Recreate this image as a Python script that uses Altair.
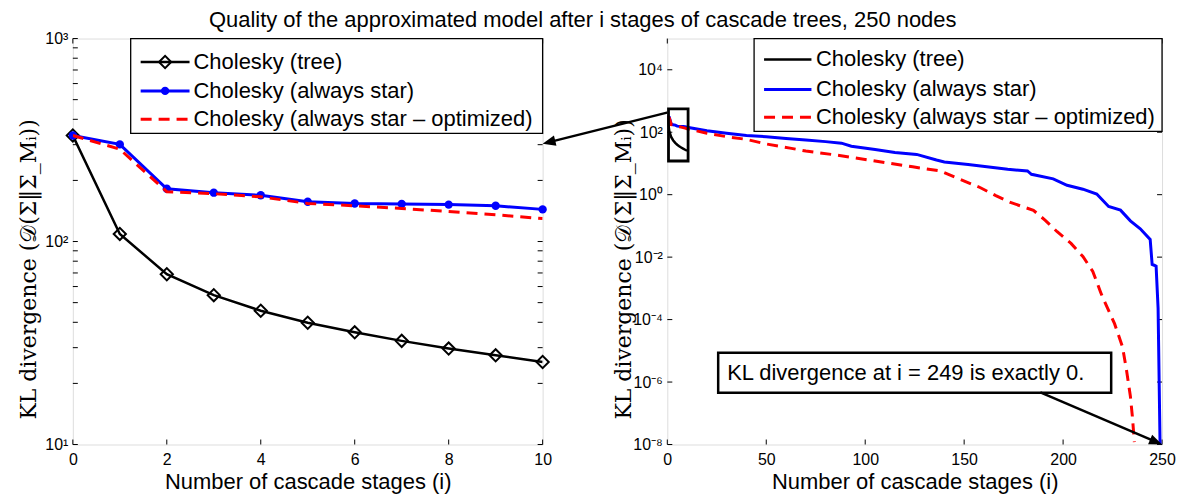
import math
import altair as alt
import pandas as pd

# ---------------- text ----------------
TITLE = "Quality of the approximated model after i stages of cascade trees, 250 nodes"
X_TITLE = "Number of cascade stages (i)"
Y_TITLE = "KL divergence (𝒟(Σ‖Σ_Mᵢ))"
SERIES = ["Cholesky (tree)", "Cholesky (always star)", "Cholesky (always star – optimized)"]
NOTE = "KL divergence at i = 249 is exactly 0."

# ---------------- data ----------------
stage_short = [0, 1, 2, 3, 4, 5, 6, 7, 8, 9, 10]
tree_kl = [333, 109, 69, 54.4, 45.6, 39.8, 35.7, 32.4, 29.7, 27.5, 25.5]
star_kl_short = [333, 301, 182, 174, 169, 157, 154, 153, 152, 150, 144]
opt_kl_short = [333, 285, 176, 172, 166, 154, 150, 145.5, 140.6, 135.5, 129.7]

star_stage_long = [20, 30, 40, 50, 60, 70, 80, 88, 93, 105, 115, 126, 136, 140, 152,
                   172, 182, 184, 195, 202, 210, 217, 223, 229, 234, 239, 244, 245,
                   246, 247, 248, 249]
star_kl_long = [112, 93, 78.5, 72, 63, 56, 50, 44.7, 35.5, 28, 22.4, 19.5, 12.9, 11.2, 9.3,
                6.5, 5.75, 4.5, 3.2, 2.0, 1.5, 1.05, 0.42, 0.32, 0.145, 0.081, 0.037, 0.0058,
                0.0055, 0.0051, 2.3e-4, 0]
opt_stage_long = [20, 30, 40, 50, 62, 70, 87, 105, 124, 138, 148, 158, 166, 173, 185, 191,
                  197, 204, 210, 215, 219, 220, 226, 230, 232, 234, 235, 236]
opt_kl_long = [93, 72, 59, 42, 31, 25, 18, 12, 7.8, 5.75, 3.1, 1.7, 0.93, 0.575, 0.316, 0.151,
               0.065, 0.0275, 0.0105, 0.0035, 7.4e-4, 5.1e-4, 7.4e-5, 1.35e-5, 2.5e-6, 3.5e-7,
               8e-8, 1.2e-8]

zoom_box_stage = [0.6, 10.5]
zoom_box_kl = [12, 560]

left_xticks = [0, 2, 4, 6, 8, 10]
left_ydecades = [1, 2, 3]
right_xticks = [0, 50, 100, 150, 200, 250]
right_ydecades = [-8, -6, -4, -2, 0, 2, 4]

# ---------------- styling ----------------
FONT = "Liberation Sans"
SERIF = "DejaVu Serif"
H = 407
WL = 471
WR = 496
GAP = 125
BLACK, BLUE, RED = "#000000", "#0000ff", "#ff0000"
DASH = [11, 7]
DUMMY = pd.DataFrame({"d": [0]})
SUP = {"-": "⁻", "0": "⁰", "1": "¹", "2": "²", "3": "³", "4": "⁴",
       "5": "⁵", "6": "⁶", "7": "⁷", "8": "⁸", "9": "⁹"}
HEAD_PATH = "M0,0L0.4,1L-0.4,1Z"

lx = alt.Scale(domain=[0, 10], nice=False, zero=False)
ly = alt.Scale(type="log", domain=[10, 1000], nice=False)
rx = alt.Scale(domain=[0, 250], nice=False, zero=False)
ry = alt.Scale(type="log", domain=[1e-8, 1e5], nice=False)


def sup_label(e):
    return "10" + "".join(SUP[c] for c in str(e))


def label_expr(exps):
    expr = "''"
    for e in exps:
        expr = f"abs(log(datum.value)/LN10 - ({e})) < 0.01 ? '{sup_label(e)}' : ({expr})"
    return expr


def x_axis(values):
    return alt.Axis(values=values, ticks=False, domain=False, grid=False,
                    labelFontSize=16, labelPadding=7, labelFlush=False, labelColor="black",
                    labelFont=FONT, title=X_TITLE, titleFont=FONT, titleFontSize=22,
                    titleFontWeight="normal", titlePadding=4, titleColor="black")


def y_axis(exps):
    return alt.Axis(values=[10.0 ** e for e in exps], labelExpr=label_expr(exps),
                    ticks=False, domain=False, grid=False, labelOverlap=False,
                    labelFontSize=16, labelPadding=5, labelColor="black", labelFont=FONT,
                    title=Y_TITLE, titleFont=SERIF, titleFontSize=22,
                    titleFontWeight="normal", titleColor="black",
                    titleX=-44, titleY=231, titleAlign="center", titleBaseline="middle",
                    titleAngle=270)


class Panel:
    def __init__(self, xs, ys, xax, yax):
        self.xs, self.ys, self.xax, self.yax = xs, ys, xax, yax

    def X(self, f):
        return alt.X(f, scale=self.xs, axis=self.xax)

    def Y(self, f):
        return alt.Y(f, scale=self.ys, axis=self.yax)


def tick_layers(p, xvals, yvals, w, h, L=5):
    dfx = pd.DataFrame({"x": xvals})
    dfy = pd.DataFrame({"y": yvals})
    return [
        alt.Chart(dfx).mark_rule(color=BLACK, strokeWidth=1).encode(
            x=p.X("x:Q"), y=alt.value(h), y2=alt.value(h - L)),
        alt.Chart(dfx).mark_rule(color=BLACK, strokeWidth=1).encode(
            x=p.X("x:Q"), y=alt.value(0), y2=alt.value(L)),
        alt.Chart(dfy).mark_rule(color=BLACK, strokeWidth=1).encode(
            y=p.Y("y:Q"), x=alt.value(0), x2=alt.value(L)),
        alt.Chart(dfy).mark_rule(color=BLACK, strokeWidth=1).encode(
            y=p.Y("y:Q"), x=alt.value(w - L), x2=alt.value(w)),
    ]


def series_line(p, xs_data, ys_data, color, width, dash=None):
    df = pd.DataFrame({"x": xs_data, "y": ys_data})
    kw = dict(color=color, strokeWidth=width, clip=True)
    if dash:
        kw["strokeDash"] = dash
    return alt.Chart(df).transform_calculate(
        y="max(datum.y, 1e-8)"
    ).mark_line(**kw).encode(x=p.X("x:Q"), y=p.Y("y:Q"), order="x:Q")


def series_points(p, xs_data, ys_data, **mk):
    df = pd.DataFrame({"x": xs_data, "y": ys_data})
    return alt.Chart(df).mark_point(opacity=1, **mk).encode(x=p.X("x:Q"), y=p.Y("y:Q"))


def legend(x0, x1, y1, rows, lx0, lx1, tx, markers):
    layers = [alt.Chart(DUMMY).mark_rect(fill="white", stroke=BLACK, strokeWidth=1.3).encode(
        x=alt.value(x0), x2=alt.value(x1), y=alt.value(0), y2=alt.value(y1))]
    styles = [(BLACK, 2.5, None), (BLUE, 3, None), (RED, 3, DASH)]
    for k, (col, sw, dash) in enumerate(styles):
        kw = dict(color=col, strokeWidth=sw)
        if dash:
            kw["strokeDash"] = dash
        layers.append(alt.Chart(DUMMY).mark_rule(**kw).encode(
            x=alt.value(lx0), x2=alt.value(lx1), y=alt.value(rows[k])))
        if markers and k == 0:
            layers.append(alt.Chart(DUMMY).mark_point(
                shape="diamond", filled=False, size=150, strokeWidth=2, color=BLACK,
                opacity=1).encode(x=alt.value((lx0 + lx1) / 2), y=alt.value(rows[k])))
        if markers and k == 1:
            layers.append(alt.Chart(DUMMY).mark_point(
                shape="circle", filled=True, size=70, color=BLUE, opacity=1).encode(
                x=alt.value((lx0 + lx1) / 2), y=alt.value(rows[k])))
        layers.append(alt.Chart(pd.DataFrame({"label": [SERIES[k]]})).mark_text(
            align="left", baseline="middle", fontSize=22, font=FONT, color=BLACK).encode(
            x=alt.value(tx), y=alt.value(rows[k]), text="label:N"))
    return layers


def arrow(x0, y0, x1, y1, width=2.5, head=13):
    dx, dy = x1 - x0, y1 - y0
    L = math.hypot(dx, dy)
    ux, uy = dx / L, dy / L
    ang = math.degrees(math.atan2(ux, -uy)) % 360
    shaft = alt.Chart(DUMMY).mark_rule(color=BLACK, strokeWidth=width).encode(
        x=alt.value(x0), y=alt.value(y0),
        x2=alt.value(x1 - ux * head * 0.6), y2=alt.value(y1 - uy * head * 0.6))
    tip = alt.Chart(DUMMY).mark_point(shape=HEAD_PATH, filled=True, color=BLACK, opacity=1,
                                      size=(2 * head) ** 2, angle=ang, strokeWidth=0).encode(
        x=alt.value(x1), y=alt.value(y1))
    return [shaft, tip]


# ---------------- left panel ----------------
pl = Panel(lx, ly, x_axis(left_xticks), y_axis(left_ydecades))
left_minor = [m * 10 ** k for k in left_ydecades[:-1] for m in range(1, 10)] + [10 ** left_ydecades[-1]]
left_layers = tick_layers(pl, left_xticks, left_minor, WL, H)
left_layers += [
    series_line(pl, stage_short, tree_kl, BLACK, 2.5),
    series_points(pl, stage_short, tree_kl, shape="diamond", filled=False, size=150,
                  strokeWidth=2, color=BLACK),
    series_line(pl, stage_short, star_kl_short, BLUE, 3),
    series_points(pl, stage_short, star_kl_short, shape="circle", filled=True, size=70,
                  color=BLUE),
    series_line(pl, stage_short, opt_kl_short, RED, 3, DASH),
]
left_layers += legend(58, WL, 95, [23.5, 52.5, 81], 68, 117, 121, True)
left_layers += arrow(596.7, 74, WL, 105.5)
left = alt.layer(*left_layers).properties(width=WL, height=H)

# ---------------- right panel ----------------
pr = Panel(rx, ry, x_axis(right_xticks), y_axis(right_ydecades))
right_y = [10.0 ** e for e in right_ydecades]
right_layers = tick_layers(pr, right_xticks, right_y, WR, H)
right_layers += [
    series_line(pr, stage_short, tree_kl, BLACK, 2.5),
    series_line(pr, stage_short + star_stage_long, star_kl_short + star_kl_long, BLUE, 3),
    series_line(pr, stage_short + opt_stage_long, opt_kl_short + opt_kl_long, RED, 3, DASH),
    alt.Chart(pd.DataFrame({"x": [zoom_box_stage[0]], "x2": [zoom_box_stage[1]],
                            "y": [zoom_box_kl[0]], "y2": [zoom_box_kl[1]]})).mark_rect(
        fillOpacity=0, stroke=BLACK, strokeWidth=2.8).encode(
        x=pr.X("x:Q"), x2="x2:Q", y=pr.Y("y:Q"), y2="y2:Q"),
]
right_layers += legend(87, WR, 93, [21, 51, 79], 97, 144.5, 149, False)
right_layers += [
    alt.Chart(DUMMY).mark_rect(fill="white", stroke=BLACK, strokeWidth=2.5).encode(
        x=alt.value(51), x2=alt.value(445), y=alt.value(315), y2=alt.value(355)),
    alt.Chart(pd.DataFrame({"t": [NOTE]})).mark_text(
        align="left", baseline="middle", fontSize=22, font=FONT, color=BLACK).encode(
        x=alt.value(60), y=alt.value(335), text="t:N"),
]
right_layers += arrow(374, 354.7, WR, H)
right = alt.layer(*right_layers).properties(width=WR, height=H)

chart = alt.hconcat(left, right, spacing=GAP, bounds="flush").properties(
    title=alt.TitleParams(TITLE, fontSize=22, fontWeight="normal", font=FONT, color="black",
                          anchor="middle", dx=-14, offset=-2),
    padding={"left": 9, "top": 0, "right": 4, "bottom": 0},
).configure_view(stroke=BLACK, strokeWidth=1.3).configure(font=FONT)

chart.save("out.html", embed_options={"renderer": "svg", "actions": False})
